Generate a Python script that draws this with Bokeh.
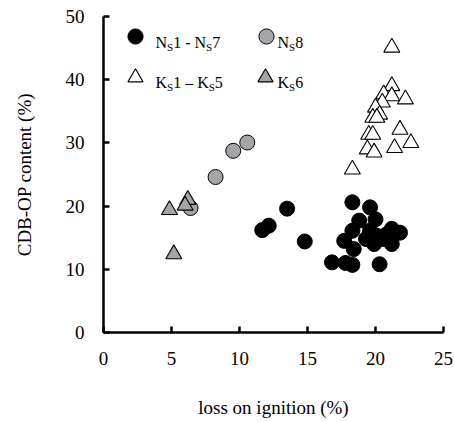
import math
from bokeh.plotting import figure
from bokeh.models import Range1d, FixedTicker, Label, Legend, LegendItem
from bokeh.embed import file_html
from bokeh.resources import INLINE

# ---------------- data ----------------
ns17_loi = [13.5, 12.15, 11.67, 14.8, 18.3, 19.6, 20.0, 18.8, 18.3, 19.6, 21.2, 21.8,
            17.7, 19.3, 19.9, 21.2, 18.4, 20.1, 16.8, 17.8, 18.3, 20.3, 20.6, 19.5, 20.8]
ns17_cdb = [19.6, 16.9, 16.2, 14.4, 20.6, 19.8, 17.9, 17.7, 16.1, 16.1, 16.4, 15.8,
            14.5, 14.8, 14.0, 14.0, 13.2, 15.3, 11.1, 11.0, 10.7, 10.8, 14.8, 15.2, 15.5]

ns8_loi = [10.57, 9.54, 8.24, 6.4]
ns8_cdb = [30.06, 28.75, 24.6, 19.7]

ks15_loi = [21.2, 21.2, 22.2, 20.6, 21.2, 20.5, 20.0, 20.3, 19.8, 20.1, 21.8, 19.5,
            19.8, 22.6, 21.4, 19.4, 19.9, 18.3]
ks15_cdb = [45.1, 39.0, 36.9, 37.7, 37.4, 36.4, 35.6, 34.5, 34.0, 34.0, 32.1, 31.3,
            31.3, 30.0, 29.2, 29.0, 28.5, 25.8]

ks6_loi = [4.85, 6.2, 6.0, 5.17]
ks6_cdb = [19.4, 21.0, 20.1, 12.4]

x_ticks = [0, 5, 10, 15, 20, 25]
y_ticks = [0, 10, 20, 30, 40, 50]

x_title = "loss on ignition (%)"
y_title = "CDB-OP content (%)"

FONT = "Liberation Serif"
GREY = "#a4a5a9"

# ---------------- figure ----------------
W, H = 454, 422
L, R, T, B = 103, 11, 16, 90
p = figure(width=W, height=H, output_backend="svg", toolbar_location=None,
           x_range=Range1d(0, 25), y_range=Range1d(0, 50),
           min_border_left=L, min_border_right=R, min_border_top=T, min_border_bottom=B)
p.outline_line_color = None
p.grid.visible = False
p.background_fill_color = "white"
p.border_fill_color = "white"

for ax in (p.xaxis[0], p.yaxis[0]):
    ax.axis_line_width = 2.5
    ax.axis_line_color = "black"
    ax.major_tick_line_width = 2.5
    ax.major_tick_line_color = "black"
    ax.major_tick_in = 6
    ax.major_tick_out = 0
    ax.minor_tick_line_color = None
    ax.major_label_text_font = FONT
    ax.major_label_text_font_size = "19px"
    ax.major_label_text_color = "black"
    ax.axis_label_text_font = FONT
    ax.axis_label_text_font_size = "19px"
    ax.axis_label_text_font_style = "normal"
    ax.axis_label_text_color = "black"
p.xaxis.ticker = FixedTicker(ticks=x_ticks)
p.yaxis.ticker = FixedTicker(ticks=y_ticks)
p.xaxis.major_label_standoff = 19
p.yaxis.major_label_standoff = 19
p.xaxis.axis_label = x_title
p.yaxis.axis_label = y_title
p.xaxis.axis_label_standoff = 29
p.yaxis.axis_label_standoff = 28

# ---------------- marks ----------------
r1 = p.scatter(ns17_loi, ns17_cdb, marker="circle", size=15,
               fill_color="black", line_color="black", line_width=1)
r2 = p.scatter(ns8_loi, ns8_cdb, marker="circle", size=15,
               fill_color=GREY, line_color="black", line_width=1)
r3 = p.scatter(ks15_loi, ks15_cdb, marker="triangle", size=16,
               fill_color="white", line_color="black", line_width=1.1)
r4 = p.scatter(ks6_loi, ks6_cdb, marker="triangle", size=16,
               fill_color=GREY, line_color="black", line_width=1.1)

# ---------------- legend (glyphs) ----------------
frame_bottom = H - B
def legend_at(r, cx, cy):
    g = 38
    leg = Legend(items=[LegendItem(label=" ", renderers=[r])],
                 location=(cx - L - g / 2, frame_bottom - cy - g / 2),
                 glyph_width=g, glyph_height=g, padding=0, margin=0, spacing=0,
                 label_standoff=0, label_width=0, label_height=0,
                 label_text_font_size="1px",
                 border_line_color=None, background_fill_alpha=0)
    p.add_layout(leg)

legend_at(r1, 134.5, 35.8)
legend_at(r2, 265.5, 35.8)
legend_at(r3, 135, 77.0)
legend_at(r4, 265, 77.0)

# ---------------- legend (texts with subscripts) ----------------
def txt(s, cx, base, size):
    p.add_layout(Label(x=cx - L, y=frame_bottom - base, x_units="screen", y_units="screen",
                       text=s, text_font=FONT, text_font_size=size, text_color="black",
                       text_align="left", text_baseline="alphabetic"))

MAIN, SUB = 16, 11
WIDTHS = {"N": 0.722, "K": 0.722, "S": 0.556, "1": 0.5, "5": 0.5, "6": 0.5,
          "7": 0.5, "8": 0.5, " ": 0.25, "-": 0.333, "\u2013": 0.5}
def seq(parts, x0, base):
    x = x0
    for s, sub in parts:
        size = SUB if sub else MAIN
        txt(s, x, base + (4.5 if sub else 0), f"{size}px")
        x += sum(WIDTHS.get(c, 0.5) for c in s) * size

seq([("N", 0), ("S", 1), ("1 - N", 0), ("S", 1), ("7", 0)], 155, 41.5)
seq([("N", 0), ("S", 1), ("8", 0)], 277, 41.5)
seq([("K", 0), ("S", 1), ("1 \u2013 K", 0), ("S", 1), ("5", 0)], 155, 81.5)
seq([("K", 0), ("S", 1), ("6", 0)], 277, 81.5)

open("out.html", "w").write(file_html(p, INLINE))
